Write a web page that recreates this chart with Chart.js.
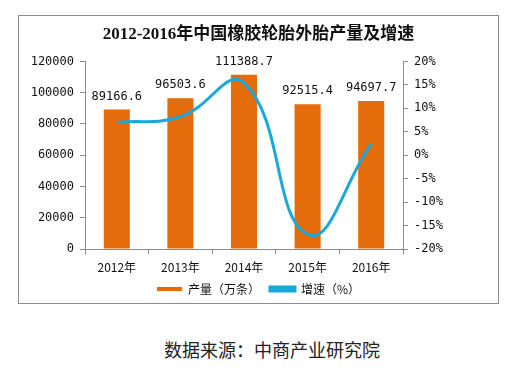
<!DOCTYPE html>
<html>
<head>
<meta charset="utf-8">
<script src="https://cdn.jsdelivr.net/npm/chart.js@4"></script>
<style>
  body { margin: 0; background: #fff; width: 520px; height: 372px; position: relative; overflow: hidden; }
  #frame { position: absolute; left: 18px; top: 15px; width: 479px; height: 287px; border: 1px solid #8c8c8c; }
  #source { position: absolute; left: 12px; width: 520px; top: 336px; text-align: center;
            font-family: "Noto Sans CJK SC", sans-serif; font-size: 18px; color: #222; }
</style>
</head>
<body>
<div id="frame"><canvas id="growthChart" width="479" height="287"></canvas></div>
<div id="source">数据来源：中商产业研究院</div>
<script>
const years = ['2012年', '2013年', '2014年', '2015年', '2016年'];
const output = [89166.6, 96503.6, 111388.7, 92515.4, 94697.7];
const growth = [7.0, 8.2, 15.4, -16.9, 2.4];

const monoFont = '"DejaVu Sans Mono", monospace';
const cjkFont = '"Noto Sans CJK SC", sans-serif';

// étiquettes au-dessus des barres
const barLabels = {
    id: 'barLabels',
    afterDatasetsDraw(chart) {
        const ctx = chart.ctx;
        const meta = chart.getDatasetMeta(0);
        ctx.save();
        ctx.font = '12px ' + monoFont;
        ctx.fillStyle = '#111';
        ctx.textAlign = 'center';
        ctx.textBaseline = 'bottom';
        meta.data.forEach((bar, i) => {
            ctx.fillText(output[i].toFixed(1), bar.x, bar.y - 7);
        });
        ctx.restore();
    }
};

const growthChart = new Chart(
    document.getElementById('growthChart').getContext('2d'),
    {
        type: 'bar',
        data: {
            labels: years,
            datasets: [{
                label: '产量（万条）',
                data: output,
                backgroundColor: '#E46C0A',
                borderWidth: 0,
                categoryPercentage: 1,
                barPercentage: 0.41,
                yAxisID: 'y',
                order: 2
            }, {
                type: 'line',
                label: '增速（%）',
                data: growth,
                borderColor: '#1AA8DC',
                backgroundColor: '#1AA8DC',
                borderWidth: 3,
                pointRadius: 0,
                tension: 0.45,
                yAxisID: 'y1',
                order: 1
            }]
        },
        options: {
            responsive: false,
            animation: false,
            layout: { padding: { top: 4, bottom: -2 } },
            plugins: {
                title: {
                    display: true,
                    text: '2012-2016年中国橡胶轮胎外胎产量及增速',
                    color: '#111',
                    font: { family: '"Liberation Serif", "Noto Sans CJK SC", serif', size: 17, weight: 'bold' },
                    padding: { top: 4, bottom: 17 }
                },
                legend: {
                    position: 'bottom',
                    labels: {
                        boxWidth: 25,
                        boxHeight: 4,
                        padding: 10,
                        color: '#111',
                        font: { family: cjkFont, size: 12 },
                        sort: (a, b) => a.datasetIndex - b.datasetIndex
                    }
                },
                tooltip: { enabled: false }
            },
            scales: {
                x: {
                    afterFit: scale => { scale.height = 24; },
                    grid: { display: true, drawOnChartArea: false, color: '#8c8c8c', tickLength: 5 },
                    border: { color: '#8c8c8c' },
                    ticks: { color: '#111', font: { family: cjkFont, size: 12 }, padding: 6 }
                },
                y: {
                    position: 'left',
                    min: 0,
                    max: 120000,
                    afterFit: scale => { scale.width = 66; },
                    grid: { display: true, drawOnChartArea: false, color: '#8c8c8c', tickLength: 5 },
                    border: { color: '#8c8c8c' },
                    ticks: { stepSize: 20000, color: '#111', font: { family: monoFont, size: 12 }, padding: 6,
                             callback: v => String(v) }
                },
                y1: {
                    position: 'right',
                    min: -20,
                    max: 20,
                    afterFit: scale => { scale.width = 95; },
                    grid: { display: true, drawOnChartArea: false, color: '#8c8c8c', tickLength: 5 },
                    border: { color: '#8c8c8c' },
                    ticks: {
                        stepSize: 5,
                        color: '#111',
                        font: { family: monoFont, size: 12 },
                        padding: 6,
                        callback: v => v + '%'
                    }
                }
            }
        },
        plugins: [barLabels]
    }
);
</script>
</body>
</html>
